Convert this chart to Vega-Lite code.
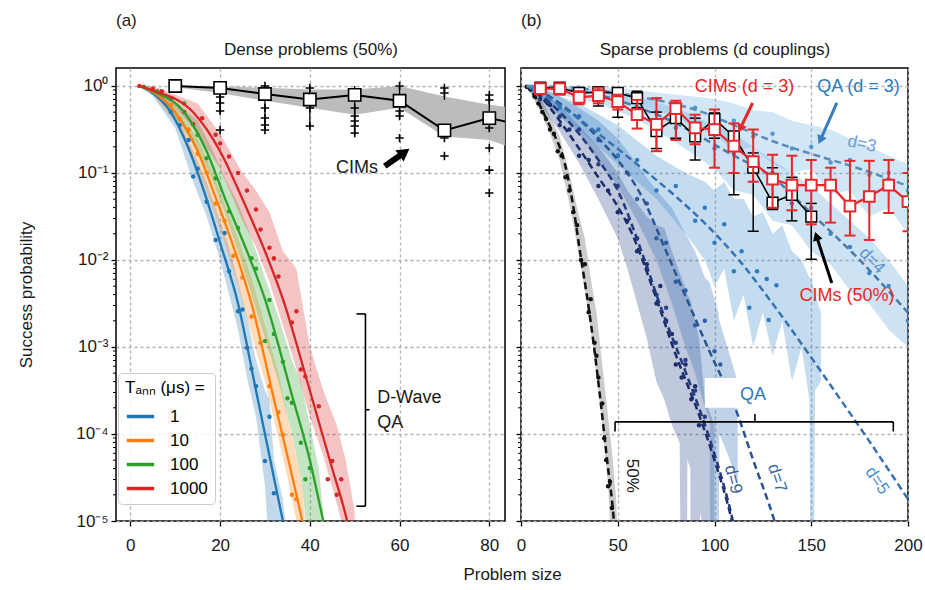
{
  "$schema": "https://vega.github.io/schema/vega-lite/v6.json",
  "padding": {"left": 17, "top": 11, "right": 0, "bottom": 0},
  "config": {
    "font": "Liberation Sans",
    "view": {"stroke": "black", "strokeWidth": 1.5},
    "axis": {"domain": false, "labelFontSize": 17, "titleFontSize": 17, "titleFontWeight": "normal", "labelColor": "#1a1a1a", "titleColor": "#1a1a1a", "tickColor": "black", "tickWidth": 1.3, "gridColor": "#b0b0b0", "gridDash": [3, 3], "gridWidth": 1.3, "labelPadding": 4},
    "title": {"fontSize": 17, "fontWeight": "normal", "anchor": "start", "frame": "group", "color": "#1a1a1a", "offset": 10}
  },
  "spacing": 16,
  "bounds": "flush",
  "resolve": {"scale": {"color": "independent", "fill": "independent", "stroke": "independent", "y": "independent"}},
  "datasets": {
    "minor": [
      {"p":0.00002},{"p":0.00003},{"p":0.00004},{"p":0.00005},{"p":0.00006},{"p":0.00007},{"p":0.00008},{"p":0.00009},
      {"p":0.0002},{"p":0.0003},{"p":0.0004},{"p":0.0005},{"p":0.0006},{"p":0.0007},{"p":0.0008},{"p":0.0009},
      {"p":0.002},{"p":0.003},{"p":0.004},{"p":0.005},{"p":0.006},{"p":0.007},{"p":0.008},{"p":0.009},
      {"p":0.02},{"p":0.03},{"p":0.04},{"p":0.05},{"p":0.06},{"p":0.07},{"p":0.08},{"p":0.09},
      {"p":0.2},{"p":0.3},{"p":0.4},{"p":0.5},{"p":0.6},{"p":0.7},{"p":0.8},{"p":0.9}
    ],
    "qaL_fit": [
      {"T":"1","n":2,"p":1},{"T":"1","n":5,"p":0.83},{"T":"1","n":9,"p":0.5},{"T":"1","n":13,"p":0.19},{"T":"1","n":17,"p":0.05},{"T":"1","n":20,"p":0.0158},{"T":"1","n":24,"p":0.00316},{"T":"1","n":28,"p":0.000316},{"T":"1","n":31,"p":5.62e-5},{"T":"1","n":34,"p":1e-5},{"T":"1","n":35.5,"p":4.47e-6},
      {"T":"10","n":2,"p":1},{"T":"10","n":5,"p":0.85},{"T":"10","n":10,"p":0.5},{"T":"10","n":15,"p":0.178},{"T":"10","n":19,"p":0.0525},{"T":"10","n":23,"p":0.0141},{"T":"10","n":27,"p":0.00316},{"T":"10","n":32,"p":0.000251},{"T":"10","n":35,"p":5.62e-5},{"T":"10","n":38.3,"p":1e-5},{"T":"10","n":39.5,"p":5.01e-6},
      {"T":"100","n":2,"p":1},{"T":"100","n":5,"p":0.87},{"T":"100","n":12,"p":0.5},{"T":"100","n":17,"p":0.178},{"T":"100","n":21,"p":0.0525},{"T":"100","n":26,"p":0.0126},{"T":"100","n":30,"p":0.00355},{"T":"100","n":36,"p":0.000282},{"T":"100","n":40,"p":5.01e-5},{"T":"100","n":43,"p":1e-5},{"T":"100","n":44.5,"p":4.47e-6},
      {"T":"1000","n":2,"p":1},{"T":"1000","n":5,"p":0.89},{"T":"1000","n":14,"p":0.5},{"T":"1000","n":20,"p":0.178},{"T":"1000","n":25,"p":0.05},{"T":"1000","n":30,"p":0.0126},{"T":"1000","n":34,"p":0.00355},{"T":"1000","n":40,"p":0.000316},{"T":"1000","n":45,"p":3.98e-5},{"T":"1000","n":48.3,"p":1e-5},{"T":"1000","n":49.5,"p":5.01e-6}
    ],
    "qaL_pts": [
      {"T":"1","n":3,"p":0.977},{"T":"1","n":5,"p":0.851},{"T":"1","n":7,"p":0.708},{"T":"1","n":9,"p":0.501},{"T":"1","n":11,"p":0.355},{"T":"1","n":13,"p":0.24},{"T":"1","n":14,"p":0.0912},{"T":"1","n":15,"p":0.112},{"T":"1","n":17,"p":0.0468},{"T":"1","n":19,"p":0.017},{"T":"1","n":21,"p":0.0204},{"T":"1","n":22,"p":0.00741},{"T":"1","n":24,"p":0.00257},{"T":"1","n":25,"p":0.00269},{"T":"1","n":26,"p":0.000977},{"T":"1","n":27,"p":0.000562},{"T":"1","n":28,"p":0.000355},{"T":"1","n":30,"p":4.9e-5},{"T":"1","n":31,"p":0.000158},{"T":"1","n":32,"p":2.09e-5},
      {"T":"10","n":3,"p":0.977},{"T":"10","n":5,"p":0.871},{"T":"10","n":7,"p":0.759},{"T":"10","n":9,"p":0.603},{"T":"10","n":11,"p":0.417},{"T":"10","n":13,"p":0.316},{"T":"10","n":15,"p":0.166},{"T":"10","n":17,"p":0.1},{"T":"10","n":19,"p":0.0447},{"T":"10","n":21,"p":0.0282},{"T":"10","n":23,"p":0.0112},{"T":"10","n":25,"p":0.00631},{"T":"10","n":27,"p":0.00224},{"T":"10","n":29,"p":0.00112},{"T":"10","n":31,"p":0.000355},{"T":"10","n":33,"p":0.000178},{"T":"10","n":34,"p":9.77e-5},{"T":"10","n":36,"p":2e-5},{"T":"10","n":37,"p":1.78e-5},
      {"T":"100","n":3,"p":0.977},{"T":"100","n":6,"p":0.871},{"T":"100","n":9,"p":0.708},{"T":"100","n":12,"p":0.631},{"T":"100","n":15,"p":0.275},{"T":"100","n":17,"p":0.148},{"T":"100","n":19,"p":0.0871},{"T":"100","n":22,"p":0.0363},{"T":"100","n":24,"p":0.0234},{"T":"100","n":27,"p":0.0105},{"T":"100","n":28,"p":0.00794},{"T":"100","n":31,"p":0.00347},{"T":"100","n":30,"p":0.00117},{"T":"100","n":32,"p":0.00141},{"T":"100","n":34,"p":0.000676},{"T":"100","n":35,"p":0.000257},{"T":"100","n":36,"p":0.000229},{"T":"100","n":38,"p":7.94e-5},{"T":"100","n":39,"p":3.02e-5},{"T":"100","n":40,"p":4.07e-5},
      {"T":"1000","n":2,"p":1},{"T":"1000","n":5,"p":0.933},{"T":"1000","n":7,"p":0.871},{"T":"1000","n":9,"p":0.724},{"T":"1000","n":12,"p":0.501},{"T":"1000","n":14,"p":0.363},{"T":"1000","n":16,"p":0.427},{"T":"1000","n":19,"p":0.275},{"T":"1000","n":20,"p":0.219},{"T":"1000","n":22,"p":0.155},{"T":"1000","n":24,"p":0.1},{"T":"1000","n":26,"p":0.0631},{"T":"1000","n":28,"p":0.038},{"T":"1000","n":29,"p":0.0224},{"T":"1000","n":31,"p":0.0138},{"T":"1000","n":32,"p":0.0105},{"T":"1000","n":33,"p":0.00646},{"T":"1000","n":36,"p":0.00191},{"T":"1000","n":37,"p":0.00257},{"T":"1000","n":38,"p":0.00055},{"T":"1000","n":39,"p":0.000457},{"T":"1000","n":42,"p":0.000209},{"T":"1000","n":44,"p":3.02e-5},{"T":"1000","n":45,"p":4.9e-5},{"T":"1000","n":46,"p":2e-5},{"T":"1000","n":47,"p":3.02e-5}
    ],
    "qaL_band": [
      {"T":"1","n":2,"lo":0.99,"hi":1},{"T":"1","n":5,"lo":0.76,"hi":0.93},{"T":"1","n":10,"lo":0.33,"hi":0.5},{"T":"1","n":14,"lo":0.079,"hi":0.178},{"T":"1","n":17,"lo":0.0316,"hi":0.079},{"T":"1","n":20,"lo":0.01,"hi":0.0282},{"T":"1","n":22,"lo":0.00398,"hi":0.0141},{"T":"1","n":24,"lo":0.00158,"hi":0.00562},{"T":"1","n":26,"lo":0.000447,"hi":0.00224},{"T":"1","n":28,"lo":0.000158,"hi":0.000708},{"T":"1","n":30,"lo":2.51e-5,"hi":0.000316},{"T":"1","n":31,"lo":3.98e-6,"hi":0.000251},{"T":"1","n":32,"lo":3.98e-6,"hi":5.01e-5},{"T":"1","n":34,"lo":3.98e-6,"hi":1.78e-5},{"T":"1","n":35,"lo":3.98e-6,"hi":6.31e-6},
      {"T":"10","n":2,"lo":0.99,"hi":1},{"T":"10","n":5,"lo":0.794,"hi":0.93},{"T":"10","n":10,"lo":0.38,"hi":0.562},{"T":"10","n":15,"lo":0.112,"hi":0.251},{"T":"10","n":18,"lo":0.0447,"hi":0.112},{"T":"10","n":21,"lo":0.0158,"hi":0.0447},{"T":"10","n":24,"lo":0.00501,"hi":0.0178},{"T":"10","n":27,"lo":0.00141,"hi":0.00631},{"T":"10","n":30,"lo":0.000398,"hi":0.00178},{"T":"10","n":33,"lo":8.91e-5,"hi":0.000501},{"T":"10","n":35,"lo":3.16e-5,"hi":0.000158},{"T":"10","n":37,"lo":1e-5,"hi":5.62e-5},{"T":"10","n":38,"lo":3.98e-6,"hi":3.16e-5},{"T":"10","n":39,"lo":3.98e-6,"hi":1e-5},
      {"T":"100","n":2,"lo":0.99,"hi":1},{"T":"100","n":5,"lo":0.832,"hi":0.955},{"T":"100","n":10,"lo":0.447,"hi":0.661},{"T":"100","n":15,"lo":0.178,"hi":0.398},{"T":"100","n":18,"lo":0.0891,"hi":0.2},{"T":"100","n":21,"lo":0.0355,"hi":0.0891},{"T":"100","n":24,"lo":0.0126,"hi":0.0447},{"T":"100","n":27,"lo":0.00398,"hi":0.0178},{"T":"100","n":30,"lo":0.00126,"hi":0.00631},{"T":"100","n":33,"lo":0.000398,"hi":0.00224},{"T":"100","n":36,"lo":0.0001,"hi":0.000708},{"T":"100","n":38,"lo":3.16e-5,"hi":0.000398},{"T":"100","n":40,"lo":3.98e-6,"hi":0.000126},{"T":"100","n":42,"lo":3.98e-6,"hi":3.98e-5},{"T":"100","n":43,"lo":3.98e-6,"hi":1.26e-5},
      {"T":"1000","n":2,"lo":0.99,"hi":1},{"T":"1000","n":5,"lo":0.871,"hi":1},{"T":"1000","n":10,"lo":0.562,"hi":0.794},{"T":"1000","n":15,"lo":0.282,"hi":0.631},{"T":"1000","n":20,"lo":0.112,"hi":0.282},{"T":"1000","n":25,"lo":0.0282,"hi":0.1},{"T":"1000","n":28,"lo":0.0141,"hi":0.0631},{"T":"1000","n":31,"lo":0.00562,"hi":0.0355},{"T":"1000","n":34,"lo":0.00178,"hi":0.0126},{"T":"1000","n":37,"lo":0.000562,"hi":0.00794},{"T":"1000","n":40,"lo":0.000158,"hi":0.001},{"T":"1000","n":43,"lo":5.62e-5,"hi":0.000316},{"T":"1000","n":46,"lo":1.58e-5,"hi":0.000126},{"T":"1000","n":48,"lo":6.31e-6,"hi":5.01e-5},{"T":"1000","n":50,"lo":3.98e-6,"hi":1.26e-5}
    ],
    "cimL": [
      {"n":10,"p":1.0},{"n":20,"p":0.95},{"n":30,"p":0.81},{"n":40,"p":0.70},{"n":50,"p":0.79},{"n":60,"p":0.676},{"n":70,"p":0.309},{"n":80,"p":0.427},{"n":90,"p":0.33}
    ],
    "cimL_band": [
      {"n":10,"lo":0.97,"hi":1.0},{"n":20,"lo":0.83,"hi":1.0},{"n":30,"lo":0.676,"hi":0.955},{"n":40,"lo":0.562,"hi":0.912},{"n":50,"lo":0.468,"hi":0.912},{"n":60,"lo":0.562,"hi":1.0},{"n":70,"lo":0.263,"hi":0.759},{"n":80,"lo":0.24,"hi":0.61},{"n":90,"lo":0.158,"hi":0.525}
    ],
    "cimL_inst": [
      {"n":20,"p":0.748},{"n":20,"p":0.638},{"n":20,"p":0.516},{"n":20,"p":0.312},
      {"n":30,"p":1.0},{"n":30,"p":0.558},{"n":30,"p":0.428},{"n":30,"p":0.356},{"n":30,"p":0.312},
      {"n":40,"p":0.948},{"n":40,"p":0.558},{"n":40,"p":0.347},
      {"n":50,"p":0.558},{"n":50,"p":0.452},{"n":50,"p":0.396},{"n":50,"p":0.347},{"n":50,"p":0.288},
      {"n":60,"p":1.0},{"n":60,"p":0.516},{"n":60,"p":0.452},{"n":60,"p":0.252},
      {"n":70,"p":0.948},{"n":70,"p":0.832},{"n":70,"p":0.252},{"n":70,"p":0.157},
      {"n":80,"p":0.789},{"n":80,"p":0.69},{"n":80,"p":0.329},{"n":80,"p":0.194},{"n":80,"p":0.108},{"n":80,"p":0.059}
    ],
    "cimL_rule": [
      {"n":20,"lo":0.49,"hi":0.95},{"n":30,"lo":0.31,"hi":1.0},{"n":40,"lo":0.33,"hi":1.0},{"n":50,"lo":0.27,"hi":1.0},{"n":60,"lo":0.45,"hi":1.0},{"n":70,"lo":0.69,"hi":1.0},{"n":70,"lo":0.25,"hi":0.31},{"n":80,"lo":0.31,"hi":0.79}
    ],
    "qaR_fit": [
      {"d":"50%","n":2,"p":1},{"d":"50%","n":5,"p":0.891},{"d":"50%","n":8,"p":0.708},{"d":"50%","n":11,"p":0.525},{"d":"50%","n":14.5,"p":0.363},{"d":"50%","n":18,"p":0.251},{"d":"50%","n":21.4,"p":0.162},{"d":"50%","n":26.6,"p":0.0468},{"d":"50%","n":31,"p":0.0105},{"d":"50%","n":34,"p":0.00398},{"d":"50%","n":37.8,"p":0.000977},{"d":"50%","n":41,"p":0.000251},{"d":"50%","n":44.5,"p":5.01e-5},{"d":"50%","n":48,"p":1e-5},{"d":"50%","n":49,"p":5.01e-6},
      {"d":"9","n":3,"p":1},{"d":"9","n":10,"p":0.759},{"d":"9","n":20,"p":0.398},{"d":"9","n":30,"p":0.191},{"d":"9","n":40,"p":0.0891},{"d":"9","n":49,"p":0.0447},{"d":"9","n":56.8,"p":0.0214},{"d":"9","n":68,"p":0.00479},{"d":"9","n":80,"p":0.000813},{"d":"9","n":92,"p":0.000166},{"d":"9","n":100,"p":5.01e-5},{"d":"9","n":109,"p":1e-5},{"d":"9","n":111,"p":6.31e-6},
      {"d":"8","n":3,"p":1},{"d":"8","n":10,"p":0.794},{"d":"8","n":20,"p":0.501},{"d":"8","n":30,"p":0.282},{"d":"8","n":40,"p":0.141},{"d":"8","n":50,"p":0.0631},{"d":"8","n":62.9,"p":0.0115},{"d":"8","n":73.2,"p":0.00251},{"d":"8","n":85.3,"p":0.000501},{"d":"8","n":97.4,"p":8.91e-5},{"d":"8","n":109.5,"p":1e-5},{"d":"8","n":111,"p":7.08e-6},
      {"d":"7","n":3,"p":1},{"d":"7","n":10,"p":0.871},{"d":"7","n":20,"p":0.631},{"d":"7","n":30,"p":0.417},{"d":"7","n":40,"p":0.251},{"d":"7","n":50,"p":0.141},{"d":"7","n":62.9,"p":0.0513},{"d":"7","n":75,"p":0.0126},{"d":"7","n":85.5,"p":0.00363},{"d":"7","n":97.4,"p":0.000891},{"d":"7","n":111,"p":0.000191},{"d":"7","n":120,"p":5.01e-5},{"d":"7","n":131,"p":1e-5},{"d":"7","n":133,"p":7.08e-6},
      {"d":"5","n":3,"p":1},{"d":"5","n":10,"p":0.832},{"d":"5","n":20,"p":0.603},{"d":"5","n":40,"p":0.282},{"d":"5","n":60,"p":0.126},{"d":"5","n":80,"p":0.0537},{"d":"5","n":97.4,"p":0.0234},{"d":"5","n":113,"p":0.00977},{"d":"5","n":130,"p":0.00316},{"d":"5","n":149,"p":0.000813},{"d":"5","n":165,"p":0.000251},{"d":"5","n":179,"p":8.91e-5},{"d":"5","n":200,"p":1.78e-5},
      {"d":"4","n":3,"p":1},{"d":"4","n":20,"p":0.933},{"d":"4","n":40,"p":0.794},{"d":"4","n":60,"p":0.575},{"d":"4","n":80,"p":0.372},{"d":"4","n":92.5,"p":0.263},{"d":"4","n":110,"p":0.158},{"d":"4","n":127,"p":0.1},{"d":"4","n":152.7,"p":0.0302},{"d":"4","n":175,"p":0.01},{"d":"4","n":201,"p":0.00234},
      {"d":"3","n":3,"p":1},{"d":"3","n":20,"p":0.977},{"d":"3","n":40,"p":0.891},{"d":"3","n":60,"p":0.759},{"d":"3","n":80,"p":0.617},{"d":"3","n":92.5,"p":0.513},{"d":"3","n":110,"p":0.355},{"d":"3","n":132,"p":0.224},{"d":"3","n":150,"p":0.166},{"d":"3","n":175,"p":0.112},{"d":"3","n":200,"p":0.0708}
    ],
    "qaR_pts": [
      {"d":"50%","n":3,"p":0.977},{"d":"50%","n":5,"p":0.912},{"d":"50%","n":7,"p":0.759},{"d":"50%","n":9,"p":0.631},{"d":"50%","n":11,"p":0.501},{"d":"50%","n":13,"p":0.417},{"d":"50%","n":15,"p":0.316},{"d":"50%","n":17,"p":0.282},{"d":"50%","n":19,"p":0.178},{"d":"50%","n":21,"p":0.158},{"d":"50%","n":23,"p":0.0891},{"d":"50%","n":25,"p":0.0631},{"d":"50%","n":27,"p":0.0355},{"d":"50%","n":29,"p":0.0251},{"d":"50%","n":31,"p":0.01},{"d":"50%","n":33,"p":0.00891},{"d":"50%","n":35,"p":0.00251},{"d":"50%","n":36,"p":0.00355},{"d":"50%","n":38,"p":0.00112},{"d":"50%","n":39,"p":0.000794},{"d":"50%","n":40,"p":0.000447},{"d":"50%","n":42,"p":0.000224},{"d":"50%","n":43,"p":8.91e-5},{"d":"50%","n":44,"p":5.01e-5},{"d":"50%","n":45,"p":2.51e-5},{"d":"50%","n":46,"p":2.82e-5},{"d":"50%","n":47,"p":1.41e-5},
      {"d":"9","n":5,"p":0.933},{"d":"9","n":10,"p":0.708},{"d":"9","n":15,"p":0.603},{"d":"9","n":20,"p":0.355},{"d":"9","n":25,"p":0.316},{"d":"9","n":30,"p":0.158},{"d":"9","n":35,"p":0.141},{"d":"9","n":40,"p":0.0708},{"d":"9","n":45,"p":0.0631},{"d":"9","n":50,"p":0.0355},{"d":"9","n":55,"p":0.0282},{"d":"9","n":60,"p":0.0126},{"d":"9","n":65,"p":0.00891},{"d":"9","n":70,"p":0.00316},{"d":"9","n":72,"p":0.00501},{"d":"9","n":75,"p":0.002},{"d":"9","n":78,"p":0.00141},{"d":"9","n":80,"p":0.000631},{"d":"9","n":83,"p":0.000447},{"d":"9","n":85,"p":0.000631},{"d":"9","n":88,"p":0.000251},{"d":"9","n":90,"p":0.000355},{"d":"9","n":92,"p":0.000126},
      {"d":"8","n":10,"p":0.794},{"d":"8","n":20,"p":0.447},{"d":"8","n":30,"p":0.316},{"d":"8","n":40,"p":0.126},{"d":"8","n":50,"p":0.0708},{"d":"8","n":60,"p":0.0178},{"d":"8","n":65,"p":0.00794},{"d":"8","n":70,"p":0.00398},{"d":"8","n":75,"p":0.00282},{"d":"8","n":80,"p":0.00112},{"d":"8","n":85,"p":0.000708},{"d":"8","n":90,"p":0.000316},{"d":"8","n":95,"p":0.000158},
      {"d":"7","n":10,"p":0.891},{"d":"7","n":20,"p":0.603},{"d":"7","n":30,"p":0.447},{"d":"7","n":40,"p":0.24},{"d":"7","n":50,"p":0.158},{"d":"7","n":55,"p":0.1},{"d":"7","n":60,"p":0.0501},{"d":"7","n":65,"p":0.0447},{"d":"7","n":70,"p":0.0178},{"d":"7","n":75,"p":0.0158},{"d":"7","n":80,"p":0.00562},{"d":"7","n":85,"p":0.00447},{"d":"7","n":90,"p":0.00178},{"d":"7","n":95,"p":0.002},{"d":"7","n":100,"p":0.000891},{"d":"7","n":103,"p":0.000631},
      {"d":"5","n":10,"p":0.871},{"d":"5","n":20,"p":0.562},{"d":"5","n":30,"p":0.447},{"d":"5","n":40,"p":0.316},{"d":"5","n":50,"p":0.158},{"d":"5","n":60,"p":0.141},{"d":"5","n":70,"p":0.0631},{"d":"5","n":80,"p":0.0708},{"d":"5","n":90,"p":0.0282},{"d":"5","n":95,"p":0.0398},{"d":"5","n":100,"p":0.0158},{"d":"5","n":105,"p":0.0257},{"d":"5","n":110,"p":0.00741},{"d":"5","n":114,"p":0.0126},{"d":"5","n":118,"p":0.00282},{"d":"5","n":122,"p":0.00741},{"d":"5","n":127,"p":0.00603},{"d":"5","n":132,"p":0.00513},{"d":"5","n":128,"p":0.00204},
      {"d":"4","n":20,"p":0.891},{"d":"4","n":30,"p":0.871},{"d":"4","n":40,"p":0.759},{"d":"4","n":50,"p":0.708},{"d":"4","n":60,"p":0.525},{"d":"4","n":70,"p":0.501},{"d":"4","n":80,"p":0.331},{"d":"4","n":90,"p":0.316},{"d":"4","n":100,"p":0.191},{"d":"4","n":110,"p":0.166},{"d":"4","n":120,"p":0.105},{"d":"4","n":130,"p":0.1},{"d":"4","n":140,"p":0.0447},{"d":"4","n":150,"p":0.0398},{"d":"4","n":160,"p":0.02},{"d":"4","n":170,"p":0.0141},{"d":"4","n":180,"p":0.00708},{"d":"4","n":190,"p":0.00501},{"d":"4","n":200,"p":0.002},
      {"d":"3","n":20,"p":0.977},{"d":"3","n":30,"p":0.955},{"d":"3","n":40,"p":0.871},{"d":"3","n":50,"p":0.851},{"d":"3","n":60,"p":0.741},{"d":"3","n":70,"p":0.708},{"d":"3","n":80,"p":0.603},{"d":"3","n":90,"p":0.562},{"d":"3","n":100,"p":0.417},{"d":"3","n":110,"p":0.398},{"d":"3","n":120,"p":0.263},{"d":"3","n":130,"p":0.282},{"d":"3","n":140,"p":0.191},{"d":"3","n":150,"p":0.2},{"d":"3","n":160,"p":0.132},{"d":"3","n":170,"p":0.141},{"d":"3","n":180,"p":0.0955},{"d":"3","n":190,"p":0.1},{"d":"3","n":200,"p":0.0631}
    ],
    "qaR_band": [
      {"d":"50%","n":2,"lo":0.99,"hi":1},{"d":"50%","n":5,"lo":0.832,"hi":0.955},{"d":"50%","n":10,"lo":0.501,"hi":0.759},{"d":"50%","n":15,"lo":0.282,"hi":0.447},{"d":"50%","n":20,"lo":0.141,"hi":0.263},{"d":"50%","n":25,"lo":0.0447,"hi":0.1},{"d":"50%","n":30,"lo":0.0112,"hi":0.0316},{"d":"50%","n":33,"lo":0.00447,"hi":0.0178},{"d":"50%","n":36,"lo":0.00158,"hi":0.00631},{"d":"50%","n":39,"lo":0.000501,"hi":0.00251},{"d":"50%","n":42,"lo":0.000126,"hi":0.000631},{"d":"50%","n":45,"lo":2.51e-5,"hi":0.000158},{"d":"50%","n":47,"lo":3.98e-6,"hi":6.31e-5},{"d":"50%","n":49,"lo":3.98e-6,"hi":2e-5},{"d":"50%","n":50,"lo":3.98e-6,"hi":6.31e-6},
      {"d":"9","n":3,"lo":0.95,"hi":1},{"d":"9","n":10,"lo":0.6,"hi":0.9},{"d":"9","n":20,"lo":0.3,"hi":0.6},{"d":"9","n":30,"lo":0.13,"hi":0.35},{"d":"9","n":40,"lo":0.05,"hi":0.2},{"d":"9","n":50,"lo":0.0178,"hi":0.1},{"d":"9","n":55,"lo":0.00794,"hi":0.0631},{"d":"9","n":60,"lo":0.00316,"hi":0.0447},{"d":"9","n":65,"lo":0.00126,"hi":0.0316},{"d":"9","n":70,"lo":0.000398,"hi":0.0251},{"d":"9","n":74,"lo":0.000251,"hi":0.0234},{"d":"9","n":78,"lo":0.000126,"hi":0.0126},{"d":"9","n":82,"lo":7.94e-5,"hi":0.00708},{"d":"9","n":83,"lo":1e-7,"hi":0.00631},{"d":"9","n":85.5,"lo":1e-7,"hi":0.00447},{"d":"9","n":86,"lo":5.01e-5,"hi":0.00398},{"d":"9","n":87.5,"lo":4e-5,"hi":0.0035},{"d":"9","n":88,"lo":1e-7,"hi":0.00316},{"d":"9","n":92,"lo":1e-7,"hi":0.00126},{"d":"9","n":92.5,"lo":1.26e-5,"hi":0.001},{"d":"9","n":95,"lo":6.31e-6,"hi":0.000251},{"d":"9","n":100,"lo":3.16e-6,"hi":0.000126},
      {"d":"7","n":3,"lo":0.95,"hi":1},{"d":"7","n":10,"lo":0.759,"hi":0.955},{"d":"7","n":20,"lo":0.447,"hi":0.759},{"d":"7","n":30,"lo":0.282,"hi":0.562},{"d":"7","n":40,"lo":0.141,"hi":0.398},{"d":"7","n":50,"lo":0.0708,"hi":0.251},{"d":"7","n":60,"lo":0.0282,"hi":0.126},{"d":"7","n":70,"lo":0.01,"hi":0.0631},{"d":"7","n":78,"lo":0.00316,"hi":0.0398},{"d":"7","n":85,"lo":0.001,"hi":0.02},{"d":"7","n":90,"lo":0.000501,"hi":0.0126},{"d":"7","n":95,"lo":0.0002,"hi":0.00631},{"d":"7","n":97.5,"lo":0.00015,"hi":0.0055},{"d":"7","n":98,"lo":1e-7,"hi":0.00501},{"d":"7","n":102,"lo":1e-7,"hi":0.00251},{"d":"7","n":102.5,"lo":0.0001,"hi":0.002},{"d":"7","n":108,"lo":5.01e-5,"hi":0.000794},{"d":"7","n":112,"lo":2.51e-5,"hi":0.000398},
      {"d":"5","n":3,"lo":0.95,"hi":1},{"d":"5","n":10,"lo":0.759,"hi":0.933},{"d":"5","n":30,"lo":0.316,"hi":0.631},{"d":"5","n":50,"lo":0.126,"hi":0.355},{"d":"5","n":70,"lo":0.0501,"hi":0.158},{"d":"5","n":85,"lo":0.02,"hi":0.1},{"d":"5","n":95,"lo":0.01,"hi":0.0794},{"d":"5","n":100,"lo":0.00501,"hi":0.0631},{"d":"5","n":105,"lo":0.00794,"hi":0.0794},{"d":"5","n":110,"lo":0.002,"hi":0.0501},{"d":"5","n":115,"lo":0.00398,"hi":0.0501},{"d":"5","n":120,"lo":0.001,"hi":0.0316},{"d":"5","n":125,"lo":0.00251,"hi":0.0355},{"d":"5","n":130,"lo":0.000794,"hi":0.02},{"d":"5","n":135,"lo":0.002,"hi":0.0251},{"d":"5","n":140,"lo":0.000398,"hi":0.0126},{"d":"5","n":145,"lo":0.001,"hi":0.01},{"d":"5","n":149,"lo":0.000251,"hi":0.00631},{"d":"5","n":150,"lo":1e-7,"hi":0.00631},{"d":"5","n":151,"lo":1e-7,"hi":0.00501},{"d":"5","n":152,"lo":0.000316,"hi":0.00398},{"d":"5","n":155,"lo":0.000398,"hi":0.00251},
      {"d":"4","n":3,"lo":0.97,"hi":1},{"d":"4","n":20,"lo":0.794,"hi":0.977},{"d":"4","n":40,"lo":0.631,"hi":0.891},{"d":"4","n":60,"lo":0.417,"hi":0.759},{"d":"4","n":80,"lo":0.224,"hi":0.562},{"d":"4","n":100,"lo":0.112,"hi":0.355},{"d":"4","n":110,"lo":0.0631,"hi":0.282},{"d":"4","n":120,"lo":0.0562,"hi":0.2},{"d":"4","n":130,"lo":0.0282,"hi":0.141},{"d":"4","n":140,"lo":0.0251,"hi":0.1},{"d":"4","n":150,"lo":0.0126,"hi":0.0708},{"d":"4","n":160,"lo":0.00891,"hi":0.0447},{"d":"4","n":170,"lo":0.00447,"hi":0.0282},{"d":"4","n":180,"lo":0.00316,"hi":0.0178},{"d":"4","n":190,"lo":0.00158,"hi":0.01},{"d":"4","n":200,"lo":0.001,"hi":0.00501},
      {"d":"3","n":3,"lo":0.98,"hi":1},{"d":"3","n":20,"lo":0.891,"hi":1},{"d":"3","n":40,"lo":0.794,"hi":0.977},{"d":"3","n":60,"lo":0.603,"hi":0.891},{"d":"3","n":80,"lo":0.447,"hi":0.794},{"d":"3","n":90,"lo":0.316,"hi":0.759},{"d":"3","n":100,"lo":0.282,"hi":0.708},{"d":"3","n":110,"lo":0.178,"hi":0.631},{"d":"3","n":120,"lo":0.2,"hi":0.525},{"d":"3","n":130,"lo":0.126,"hi":0.501},{"d":"3","n":140,"lo":0.1,"hi":0.398},{"d":"3","n":150,"lo":0.112,"hi":0.355},{"d":"3","n":160,"lo":0.0562,"hi":0.316},{"d":"3","n":170,"lo":0.0631,"hi":0.251},{"d":"3","n":180,"lo":0.0316,"hi":0.2},{"d":"3","n":190,"lo":0.0398,"hi":0.158},{"d":"3","n":200,"lo":0.02,"hi":0.126}
    ],
    "cimR50": [
      {"n":10,"p":0.955,"lo":0.912,"hi":1.0},{"n":20,"p":0.955,"lo":0.891,"hi":1.0},{"n":30,"p":0.832,"lo":0.708,"hi":0.955},{"n":40,"p":0.851,"lo":0.589,"hi":0.955},{"n":50,"p":0.832,"lo":0.437,"hi":0.912},{"n":60,"p":0.724,"lo":0.562,"hi":0.871},{"n":70,"p":0.302,"lo":0.191,"hi":0.501},{"n":80,"p":0.427,"lo":0.251,"hi":0.631},{"n":90,"p":0.263,"lo":0.141,"hi":0.427},{"n":100,"p":0.417,"lo":0.251,"hi":0.49},{"n":110,"p":0.263,"lo":0.0562,"hi":0.275},{"n":120,"p":0.115,"lo":0.0214,"hi":0.17},{"n":130,"p":0.0457,"lo":0.038,"hi":0.115},{"n":140,"p":0.0562,"lo":0.0282,"hi":0.0891},{"n":150,"p":0.0316,"lo":0.0102,"hi":0.0447}
    ],
    "cimR3": [
      {"n":10,"p":0.933,"lo":0.871,"hi":1.0},{"n":20,"p":0.933,"lo":0.794,"hi":1.0},{"n":30,"p":0.741,"lo":0.617,"hi":0.871},{"n":40,"p":0.776,"lo":0.631,"hi":0.955},{"n":50,"p":0.661,"lo":0.537,"hi":0.794},{"n":60,"p":0.468,"lo":0.324,"hi":0.692},{"n":70,"p":0.363,"lo":0.178,"hi":0.724},{"n":80,"p":0.55,"lo":0.24,"hi":0.676},{"n":90,"p":0.331,"lo":0.214,"hi":0.468},{"n":100,"p":0.316,"lo":0.115,"hi":0.537},{"n":110,"p":0.204,"lo":0.1,"hi":0.372},{"n":120,"p":0.135,"lo":0.0794,"hi":0.316},{"n":130,"p":0.0851,"lo":0.0398,"hi":0.162},{"n":140,"p":0.0724,"lo":0.0372,"hi":0.158},{"n":150,"p":0.0724,"lo":0.0257,"hi":0.141},{"n":160,"p":0.0724,"lo":0.0269,"hi":0.115},{"n":170,"p":0.0417,"lo":0.0191,"hi":0.138},{"n":180,"p":0.0537,"lo":0.017,"hi":0.138},{"n":190,"p":0.0724,"lo":0.0347,"hi":0.141},{"n":200,"p":0.0468,"lo":0.0214,"hi":0.1}
    ]
  },
  "hconcat": [
    {
      "width": 389,
      "height": 453,
      "title": {"text": "(a)"},
      "resolve": {"axis": {"x": "independent", "y": "independent"}, "legend": {"color": "independent"}},
      "layer": [
        {
          "data": {"name": "qaL_band"},
          "mark": {"type": "area", "opacity": 0.28, "clip": true},
          "encoding": {
            "x": {"field": "n", "type": "quantitative", "scale": {"domain": [-3.2, 83.5], "nice": false, "zero": false},
              "axis": {"orient": "bottom", "values": [0, 20, 40, 60, 80], "title": "Problem size", "titleX": 396, "titlePadding": 13, "tickSize": 5, "labelPadding": 11, "labelFlush": false, "grid": true}},
            "y": {"field": "lo", "type": "quantitative", "scale": {"type": "log", "domain": [0.00001, 1.61], "nice": false},
              "axis": {"orient": "left", "title": "Success probability", "titlePadding": 40, "labelPadding": 3, "labelOverlap": false, "tickSize": 5, "grid": true,
                "values": [0.00001, 0.0001, 0.001, 0.01, 0.1, 1],
                "labelExpr": "datum.value==1?'10⁰':datum.value==0.1?'10⁻¹':datum.value==0.01?'10⁻²':datum.value==0.001?'10⁻³':datum.value==0.0001?'10⁻⁴':'10⁻⁵'"}},
            "y2": {"field": "hi"},
            "color": {"field": "T", "type": "nominal", "scale": {"domain": ["1", "10", "100", "1000"], "range": ["#1f77b4", "#ff7f0e", "#2ca02c", "#d62728"]}, "legend": null}
          }
        },
        {
          "data": {"name": "minor"},
          "mark": {"type": "rule", "color": "black", "strokeWidth": 1},
          "encoding": {
            "x": {"datum": -3.87, "axis": null},
            "x2": {"datum": -3.2},
            "y": {"field": "p", "type": "quantitative", "axis": null}
          }
        },
        {
          "data": {"name": "qaL_pts"},
          "mark": {"type": "point", "filled": true, "size": 20, "opacity": 1, "clip": true},
          "encoding": {
            "x": {"field": "n", "type": "quantitative", "axis": null},
            "y": {"field": "p", "type": "quantitative", "axis": null},
            "color": {"field": "T", "type": "nominal", "legend": null}
          }
        },
        {
          "data": {"name": "qaL_fit"},
          "mark": {"type": "line", "strokeWidth": 2.3, "interpolate": "monotone", "clip": true},
          "encoding": {
            "x": {"field": "n", "type": "quantitative", "axis": null},
            "y": {"field": "p", "type": "quantitative", "axis": null},
            "color": {"field": "T", "type": "nominal",
              "legend": {"title": "Tₐₙₙ (μs) =", "orient": "none", "legendX": 2, "legendY": 305, "symbolType": "stroke", "symbolStrokeWidth": 3.5, "symbolSize": 750, "labelFontSize": 17, "titleFontSize": 17, "titleFontWeight": "normal", "padding": 7, "strokeColor": "#cccccc", "fillColor": "rgba(255,255,255,0.85)", "cornerRadius": 4, "rowPadding": 0, "labelOffset": 14, "titlePadding": 4}}
          }
        },
        {
          "data": {"name": "cimL_band"},
          "mark": {"type": "area", "color": "#b5b5b5", "opacity": 0.9, "clip": true},
          "encoding": {
            "x": {"field": "n", "type": "quantitative", "axis": null},
            "y": {"field": "lo", "type": "quantitative", "axis": null},
            "y2": {"field": "hi"}
          }
        },
        {
          "data": {"name": "cimL_rule"},
          "mark": {"type": "rule", "color": "black", "strokeWidth": 1.3, "clip": true},
          "encoding": {
            "x": {"field": "n", "type": "quantitative", "axis": null},
            "y": {"field": "lo", "type": "quantitative", "axis": null},
            "y2": {"field": "hi"}
          }
        },
        {
          "data": {"name": "cimL_inst"},
          "mark": {"type": "point", "shape": "M-1,0H1M0,-1V1", "filled": false, "stroke": "black", "strokeWidth": 1.6, "size": 70, "opacity": 1, "clip": true},
          "encoding": {
            "x": {"field": "n", "type": "quantitative", "axis": null},
            "y": {"field": "p", "type": "quantitative", "axis": null}
          }
        },
        {
          "data": {"name": "cimL"},
          "mark": {"type": "line", "color": "black", "strokeWidth": 2, "clip": true},
          "encoding": {
            "x": {"field": "n", "type": "quantitative", "axis": null},
            "y": {"field": "p", "type": "quantitative", "axis": null}
          }
        },
        {
          "data": {"name": "cimL"},
          "mark": {"type": "point", "shape": "square", "filled": true, "fill": "white", "stroke": "black", "strokeWidth": 1.6, "size": 150, "opacity": 1, "clip": true},
          "encoding": {
            "x": {"field": "n", "type": "quantitative", "axis": null},
            "y": {"field": "p", "type": "quantitative", "axis": null}
          }
        },
        {
          "data": {"values": [{"n": 52.4, "n2": 52.4, "p": 0.0024, "p2": 1.48e-5}, {"n": 50.4, "n2": 52.4, "p": 0.0024, "p2": 0.0024}, {"n": 50.4, "n2": 52.4, "p": 1.48e-5, "p2": 1.48e-5}, {"n": 52.4, "n2": 53.3, "p": 0.00019, "p2": 0.00019}]},
          "mark": {"type": "rule", "color": "black", "strokeWidth": 1.6},
          "encoding": {
            "x": {"field": "n", "type": "quantitative", "axis": null},
            "x2": {"field": "n2"},
            "y": {"field": "p", "type": "quantitative", "axis": null},
            "y2": {"field": "p2"}
          }
        },
        {
          "data": {"values": [{"n": 55, "p": 0.00026, "label": "D-Wave"}, {"n": 55, "p": 0.000135, "label": "QA"}]},
          "mark": {"type": "text", "align": "left", "baseline": "middle", "fontSize": 18, "color": "#1a1a1a"},
          "encoding": {
            "x": {"field": "n", "type": "quantitative", "axis": null},
            "y": {"field": "p", "type": "quantitative", "axis": null},
            "text": {"field": "label"}
          }
        },
        {
          "data": {"values": [{"n": 56.7, "p": 0.12, "n2": 60.9, "p2": 0.17}]},
          "mark": {"type": "rule", "color": "black", "strokeWidth": 6},
          "encoding": {
            "x": {"field": "n", "type": "quantitative", "axis": null},
            "x2": {"field": "n2"},
            "y": {"field": "p", "type": "quantitative", "axis": null},
            "y2": {"field": "p2"}
          }
        },
        {
          "data": {"values": [{"n": 61.1, "p": 0.173}]},
          "mark": {"type": "point", "shape": "triangle-up", "filled": true, "color": "black", "opacity": 1, "size": 200, "angle": 54},
          "encoding": {
            "x": {"field": "n", "type": "quantitative", "axis": null},
            "y": {"field": "p", "type": "quantitative", "axis": null}
          }
        },
        {
          "data": {"values": [{"n": 50.5, "p": 0.114, "label": "CIMs"}]},
          "mark": {"type": "text", "align": "center", "baseline": "middle", "fontSize": 18, "color": "#1a1a1a"},
          "encoding": {
            "x": {"field": "n", "type": "quantitative", "axis": {"orient": "top", "title": "Dense problems (50%)", "labels": false, "ticks": false, "domain": false, "grid": false, "titlePadding": 10}},
            "y": {"field": "p", "type": "quantitative", "axis": null},
            "text": {"field": "label"}
          }
        }
      ]
    },
    {
      "width": 387,
      "height": 453,
      "title": {"text": "(b)"},
      "resolve": {"axis": {"x": "independent", "y": "independent"}},
      "layer": [
        {
          "data": {"name": "qaR_band"},
          "mark": {"type": "area", "opacity": 0.3, "clip": true},
          "encoding": {
            "x": {"field": "n", "type": "quantitative", "scale": {"domain": [0, 200], "nice": false, "zero": false},
              "axis": {"orient": "bottom", "values": [0, 50, 100, 150, 200], "title": null, "tickSize": 5, "labelPadding": 11, "labelFlush": false, "grid": true}},
            "y": {"field": "lo", "type": "quantitative", "scale": {"type": "log", "domain": [0.00001, 1.61], "nice": false},
              "axis": {"orient": "left", "title": null, "labels": false, "tickSize": 5, "grid": true, "values": [0.00001, 0.0001, 0.001, 0.01, 0.1, 1]}},
            "y2": {"field": "hi"},
            "color": {"field": "d", "type": "nominal", "scale": {"domain": ["50%", "9", "7", "5", "4", "3"], "range": ["#555555", "#2a4a8a", "#2a6ab3", "#3d8ccc", "#5aa0d5", "#6aaede"]}, "legend": null}
          }
        },
        {
          "data": {"name": "minor"},
          "mark": {"type": "rule", "color": "black", "strokeWidth": 1},
          "encoding": {
            "x": {"datum": -1.55, "axis": null},
            "x2": {"datum": 0},
            "y": {"field": "p", "type": "quantitative", "axis": null}
          }
        },
        {
          "data": {"name": "qaR_pts"},
          "mark": {"type": "point", "filled": true, "size": 20, "opacity": 1, "clip": true},
          "encoding": {
            "x": {"field": "n", "type": "quantitative", "axis": null},
            "y": {"field": "p", "type": "quantitative", "axis": null},
            "fill": {"field": "d", "type": "nominal", "scale": {"domain": ["50%", "9", "8", "7", "5", "4", "3"], "range": ["#111111", "#1f2d6b", "#26408a", "#2d5fa5", "#2f7bc2", "#3d86c8", "#5298d3"]}, "legend": null}
          }
        },
        {
          "data": {"name": "qaR_fit"},
          "mark": {"type": "line", "strokeWidth": 2.5, "strokeDash": [7, 4], "interpolate": "monotone", "clip": true},
          "encoding": {
            "x": {"field": "n", "type": "quantitative", "axis": null},
            "y": {"field": "p", "type": "quantitative", "axis": null},
            "stroke": {"field": "d", "type": "nominal", "scale": {"domain": ["50%", "9", "8", "7", "5", "4", "3"], "range": ["#111111", "#1c2c66", "#22397a", "#2a5590", "#3873b0", "#4a7eaa", "#5b8cb8"]}, "legend": null}
          }
        },
        {
          "data": {"values": [{"n": 95, "n2": 140, "p": 0.0002, "p2": 0.00044}]},
          "mark": {"type": "rect", "color": "white", "opacity": 1},
          "encoding": {
            "x": {"field": "n", "type": "quantitative", "axis": null},
            "x2": {"field": "n2"},
            "y": {"field": "p", "type": "quantitative", "axis": null},
            "y2": {"field": "p2"}
          }
        },
        {
          "data": {"name": "cimR50"},
          "mark": {"type": "rule", "color": "black", "strokeWidth": 1.5, "clip": true},
          "encoding": {
            "x": {"field": "n", "type": "quantitative", "axis": null},
            "y": {"field": "lo", "type": "quantitative", "axis": null},
            "y2": {"field": "hi"}
          }
        },
        {
          "data": {"name": "cimR50"},
          "mark": {"type": "tick", "orient": "horizontal", "color": "black", "size": 11, "thickness": 1.5, "opacity": 1, "clip": true},
          "encoding": {
            "x": {"field": "n", "type": "quantitative", "axis": null},
            "y": {"field": "lo", "type": "quantitative", "axis": null}
          }
        },
        {
          "data": {"name": "cimR50"},
          "mark": {"type": "tick", "orient": "horizontal", "color": "black", "size": 11, "thickness": 1.5, "opacity": 1, "clip": true},
          "encoding": {
            "x": {"field": "n", "type": "quantitative", "axis": null},
            "y": {"field": "hi", "type": "quantitative", "axis": null}
          }
        },
        {
          "data": {"name": "cimR50"},
          "mark": {"type": "line", "color": "black", "strokeWidth": 1.6, "clip": true},
          "encoding": {
            "x": {"field": "n", "type": "quantitative", "axis": null},
            "y": {"field": "p", "type": "quantitative", "axis": null}
          }
        },
        {
          "data": {"name": "cimR50"},
          "mark": {"type": "point", "shape": "square", "filled": true, "fill": "white", "stroke": "black", "strokeWidth": 1.5, "size": 115, "opacity": 1, "clip": true},
          "encoding": {
            "x": {"field": "n", "type": "quantitative", "axis": null},
            "y": {"field": "p", "type": "quantitative", "axis": null}
          }
        },
        {
          "data": {"name": "cimR3"},
          "mark": {"type": "rule", "color": "#e8262b", "strokeWidth": 2, "clip": true},
          "encoding": {
            "x": {"field": "n", "type": "quantitative", "axis": null},
            "y": {"field": "lo", "type": "quantitative", "axis": null},
            "y2": {"field": "hi"}
          }
        },
        {
          "data": {"name": "cimR3"},
          "mark": {"type": "tick", "orient": "horizontal", "color": "#e8262b", "size": 11, "thickness": 2, "opacity": 1, "clip": true},
          "encoding": {
            "x": {"field": "n", "type": "quantitative", "axis": null},
            "y": {"field": "lo", "type": "quantitative", "axis": null}
          }
        },
        {
          "data": {"name": "cimR3"},
          "mark": {"type": "tick", "orient": "horizontal", "color": "#e8262b", "size": 11, "thickness": 2, "opacity": 1, "clip": true},
          "encoding": {
            "x": {"field": "n", "type": "quantitative", "axis": null},
            "y": {"field": "hi", "type": "quantitative", "axis": null}
          }
        },
        {
          "data": {"name": "cimR3"},
          "mark": {"type": "line", "color": "#e8262b", "strokeWidth": 2.2, "clip": true},
          "encoding": {
            "x": {"field": "n", "type": "quantitative", "axis": null},
            "y": {"field": "p", "type": "quantitative", "axis": null}
          }
        },
        {
          "data": {"name": "cimR3"},
          "mark": {"type": "point", "shape": "square", "filled": true, "fill": "white", "stroke": "#e8262b", "strokeWidth": 2, "size": 115, "opacity": 1, "clip": true},
          "encoding": {
            "x": {"field": "n", "type": "quantitative", "axis": null},
            "y": {"field": "p", "type": "quantitative", "axis": null}
          }
        },
        {
          "data": {"values": [{"n": 48.6, "n2": 192.4, "p": 0.000138, "p2": 0.000138}, {"n": 48.6, "n2": 48.6, "p": 0.000138, "p2": 0.000107}, {"n": 192.4, "n2": 192.4, "p": 0.000138, "p2": 0.000107}, {"n": 120.9, "n2": 120.9, "p": 0.000138, "p2": 0.00017}]},
          "mark": {"type": "rule", "color": "black", "strokeWidth": 1.6},
          "encoding": {
            "x": {"field": "n", "type": "quantitative", "axis": null},
            "x2": {"field": "n2"},
            "y": {"field": "p", "type": "quantitative", "axis": null},
            "y2": {"field": "p2"}
          }
        },
        {
          "data": {"values": [{"n": 119.7, "p": 0.638, "n2": 113.3, "p2": 0.324}]},
          "mark": {"type": "rule", "color": "#e8262b", "strokeWidth": 3},
          "encoding": {
            "x": {"field": "n", "type": "quantitative", "axis": null},
            "x2": {"field": "n2"},
            "y": {"field": "p", "type": "quantitative", "axis": null},
            "y2": {"field": "p2"}
          }
        },
        {
          "data": {"values": [{"n": 113.3, "p": 0.324}]},
          "mark": {"type": "point", "shape": "triangle-up", "filled": true, "color": "#e8262b", "opacity": 1, "size": 100, "angle": 207},
          "encoding": {
            "x": {"field": "n", "type": "quantitative", "axis": null},
            "y": {"field": "p", "type": "quantitative", "axis": null}
          }
        },
        {
          "data": {"values": [{"n": 163.2, "p": 0.638, "n2": 154.7, "p2": 0.239}]},
          "mark": {"type": "rule", "color": "#3b7bbf", "strokeWidth": 3},
          "encoding": {
            "x": {"field": "n", "type": "quantitative", "axis": null},
            "x2": {"field": "n2"},
            "y": {"field": "p", "type": "quantitative", "axis": null},
            "y2": {"field": "p2"}
          }
        },
        {
          "data": {"values": [{"n": 154.7, "p": 0.239}]},
          "mark": {"type": "point", "shape": "triangle-up", "filled": true, "color": "#3b7bbf", "opacity": 1, "size": 100, "angle": 204},
          "encoding": {
            "x": {"field": "n", "type": "quantitative", "axis": null},
            "y": {"field": "p", "type": "quantitative", "axis": null}
          }
        },
        {
          "data": {"values": [{"n": 160.6, "p": 0.00544, "n2": 152.7, "p2": 0.0188}]},
          "mark": {"type": "rule", "color": "black", "strokeWidth": 3},
          "encoding": {
            "x": {"field": "n", "type": "quantitative", "axis": null},
            "x2": {"field": "n2"},
            "y": {"field": "p", "type": "quantitative", "axis": null},
            "y2": {"field": "p2"}
          }
        },
        {
          "data": {"values": [{"n": 152.7, "p": 0.0188}]},
          "mark": {"type": "point", "shape": "triangle-up", "filled": true, "color": "black", "opacity": 1, "size": 100, "angle": 342},
          "encoding": {
            "x": {"field": "n", "type": "quantitative", "axis": null},
            "y": {"field": "p", "type": "quantitative", "axis": null}
          }
        },
        {
          "data": {"values": [{"n": 115.5, "p": 0.97, "label": "CIMs (d = 3)"}, {"n": 168.5, "p": 0.00386, "label": "CIMs (50%)"}]},
          "mark": {"type": "text", "align": "center", "baseline": "middle", "fontSize": 18, "color": "#e8262b"},
          "encoding": {
            "x": {"field": "n", "type": "quantitative", "axis": null},
            "y": {"field": "p", "type": "quantitative", "axis": null},
            "text": {"field": "label"}
          }
        },
        {
          "data": {"values": [{"n": 174.4, "p": 0.97, "label": "QA (d = 3)"}]},
          "mark": {"type": "text", "align": "center", "baseline": "middle", "fontSize": 18, "color": "#2b7bbf"},
          "encoding": {
            "x": {"field": "n", "type": "quantitative", "axis": null},
            "y": {"field": "p", "type": "quantitative", "axis": null},
            "text": {"field": "label"}
          }
        },
        {
          "data": {"values": [{"n": 176.2, "p": 0.215, "label": "d=3"}]},
          "mark": {"type": "text", "align": "center", "baseline": "middle", "fontSize": 17, "color": "#6a9ed2", "angle": 12},
          "encoding": {
            "x": {"field": "n", "type": "quantitative", "axis": null},
            "y": {"field": "p", "type": "quantitative", "axis": null},
            "text": {"field": "label"}
          }
        },
        {
          "data": {"values": [{"n": 181.4, "p": 0.0098, "label": "d=4"}]},
          "mark": {"type": "text", "align": "center", "baseline": "middle", "fontSize": 17, "color": "#5b93cc", "angle": 46},
          "encoding": {
            "x": {"field": "n", "type": "quantitative", "axis": null},
            "y": {"field": "p", "type": "quantitative", "axis": null},
            "text": {"field": "label"}
          }
        },
        {
          "data": {"values": [{"n": 57.2, "p": 3.3e-5, "label": "50%"}]},
          "mark": {"type": "text", "align": "center", "baseline": "middle", "fontSize": 17, "color": "#1a1a1a", "angle": 90},
          "encoding": {
            "x": {"field": "n", "type": "quantitative", "axis": null},
            "y": {"field": "p", "type": "quantitative", "axis": null},
            "text": {"field": "label"}
          }
        },
        {
          "data": {"values": [{"n": 109.6, "p": 3.0e-5, "label": "d=9"}]},
          "mark": {"type": "text", "align": "center", "baseline": "middle", "fontSize": 17, "color": "#3d5f94", "angle": 76},
          "encoding": {
            "x": {"field": "n", "type": "quantitative", "axis": null},
            "y": {"field": "p", "type": "quantitative", "axis": null},
            "text": {"field": "label"}
          }
        },
        {
          "data": {"values": [{"n": 132.3, "p": 3.1e-5, "label": "d=7"}]},
          "mark": {"type": "text", "align": "center", "baseline": "middle", "fontSize": 17, "color": "#3569a8", "angle": 72},
          "encoding": {
            "x": {"field": "n", "type": "quantitative", "axis": null},
            "y": {"field": "p", "type": "quantitative", "axis": null},
            "text": {"field": "label"}
          }
        },
        {
          "data": {"values": [{"n": 184, "p": 2.9e-5, "label": "d=5"}]},
          "mark": {"type": "text", "align": "center", "baseline": "middle", "fontSize": 17, "color": "#4d90d0", "angle": 56},
          "encoding": {
            "x": {"field": "n", "type": "quantitative", "axis": null},
            "y": {"field": "p", "type": "quantitative", "axis": null},
            "text": {"field": "label"}
          }
        },
        {
          "data": {"values": [{"n": 119.9, "p": 0.00028, "label": "QA"}]},
          "mark": {"type": "text", "align": "center", "baseline": "middle", "fontSize": 18, "color": "#2b7bbf"},
          "encoding": {
            "x": {"field": "n", "type": "quantitative", "axis": {"orient": "top", "title": "Sparse problems (d couplings)", "labels": false, "ticks": false, "domain": false, "grid": false, "titlePadding": 10}},
            "y": {"field": "p", "type": "quantitative", "axis": null},
            "text": {"field": "label"}
          }
        }
      ]
    }
  ]
}
